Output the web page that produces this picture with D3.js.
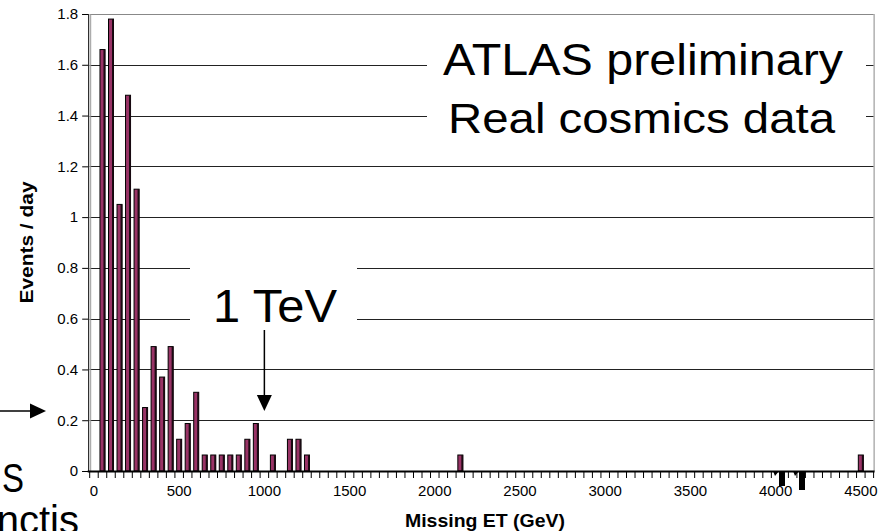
<!DOCTYPE html>
<html>
<head>
<meta charset="utf-8">
<script src="https://cdn.jsdelivr.net/npm/d3@7/dist/d3.min.js"></script>
<style>
  body { margin: 0; background: #fff; }
  svg { display: block; font-family: "Liberation Sans", Arial, sans-serif; }
</style>
</head>
<body>
<div id="chart"></div>
<script>
// bins of 50 GeV, 0 .. 4550
const bins = d3.range(0, 4600, 50);
// non-empty bins (everything else is 0)
const filledBins = [50, 100, 150, 200, 250, 300, 350, 400, 450, 500, 550, 600, 650, 700, 750, 800, 850, 900, 950, 1050, 1150, 1200, 1250, 2150, 4500];
const eventsPerDay = [1.66, 1.78, 1.05, 1.48, 1.11, 0.25, 0.49, 0.37, 0.49, 0.125, 0.187, 0.31, 0.063, 0.063, 0.063, 0.063, 0.063, 0.125, 0.187, 0.063, 0.125, 0.125, 0.063, 0.063, 0.063];
const xLabels = [0, 500, 1000, 1500, 2000, 2500, 3000, 3500, 4000, 4500];
const yTicks = [0, 0.2, 0.4, 0.6, 0.8, 1, 1.2, 1.4, 1.6, 1.8];

const W = 882, H = 531;
const plotL = 89.7, plotR = 873.6, plotT = 14, plotB = 471;

const valueOf = new Map(filledBins.map((b, i) => [b, eventsPerDay[i]]));
const data = bins.map(b => ({ bin: b, v: valueOf.get(b) || 0 }));

const svg = d3.select("#chart").append("svg")
  .attr("width", W)
  .attr("height", H);

const x = d3.scaleBand()
  .domain(bins)
  .range([plotL, plotR])
  .padding(0);

const y = d3.scaleLinear()
  .domain([0, 1.8])
  .range([plotB, plotT]);

// grid lines (back wall)
svg.append("g")
  .selectAll("line")
  .data(yTicks.slice(1))
  .join("line")
  .attr("x1", plotL)
  .attr("x2", plotR)
  .attr("y1", d => Math.round(y(d)) + 0.5)
  .attr("y2", d => Math.round(y(d)) + 0.5)
  .attr("stroke", d => d === 1.8 ? "#888" : "#222")
  .attr("stroke-width", 1);

// frame on the right side and wall edge
svg.append("line")
  .attr("x1", plotR + 0.5).attr("x2", plotR + 0.5)
  .attr("y1", y(1.8)).attr("y2", plotB)
  .attr("stroke", "#888");
svg.append("line")
  .attr("x1", plotL + 1).attr("x2", plotL + 1)
  .attr("y1", y(1.8)).attr("y2", plotB)
  .attr("stroke", "#999");

// white boxes under the annotations
svg.append("rect")
  .attr("x", 427).attr("y", 22).attr("width", 439).attr("height", 128)
  .attr("fill", "#fff");
svg.append("rect")
  .attr("x", 190).attr("y", 262).attr("width", 167).attr("height", 66)
  .attr("fill", "#fff");

// bars
const bw = 5;
const bars = svg.append("g")
  .selectAll("g")
  .data(data)
  .join("g")
  .attr("transform", d => "translate(" + (x(d.bin) + x.bandwidth() / 2 - bw / 2) + ",0)");

bars.append("rect")
  .attr("x", 0)
  .attr("y", d => y(d.v))
  .attr("width", bw)
  .attr("height", d => plotB - y(d.v))
  .attr("fill", "#993366")
  .attr("stroke", "#000")
  .attr("stroke-width", 1);

bars.filter(d => d.v > 0).append("rect")
  .attr("x", bw - 1.5)
  .attr("y", d => y(d.v))
  .attr("width", 1.8)
  .attr("height", d => plotB - y(d.v))
  .attr("fill", "#1a0a12");

// x axis
svg.append("line")
  .attr("x1", plotL - 2).attr("x2", plotR + 1)
  .attr("y1", plotB + 0.5).attr("y2", plotB + 0.5)
  .attr("stroke", "#000").attr("stroke-width", 2);

svg.append("g")
  .selectAll("line")
  .data(bins.concat([null]))
  .join("line")
  .attr("x1", d => d === null ? plotR : x(d))
  .attr("x2", d => d === null ? plotR : x(d))
  .attr("y1", plotB)
  .attr("y2", plotB + 7)
  .attr("stroke", "#000");

const xAxis = svg.append("g")
  .attr("transform", "translate(0," + (plotB + 11) + ")")
  .call(d3.axisBottom(x).tickValues(xLabels).tickSize(0));
xAxis.select(".domain").remove();
xAxis.selectAll("text")
  .attr("font-family", "Liberation Sans, Arial, sans-serif")
  .attr("font-size", 15)
  .attr("fill", "#000");

// y axis
const yAxis = svg.append("g")
  .attr("transform", "translate(" + (plotL - 1.5) + ",0)")
  .call(d3.axisLeft(y).tickValues(yTicks).tickSize(6).tickPadding(4)
    .tickFormat(d => String(+d.toFixed(1))));
yAxis.select(".domain").attr("stroke", "#000");
yAxis.selectAll(".tick line").attr("stroke", "#000");
yAxis.selectAll("text")
  .attr("font-family", "Liberation Sans, Arial, sans-serif")
  .attr("font-size", 15)
  .attr("fill", "#000");

// axis titles
svg.append("text")
  .attr("transform", "translate(33," + (plotT + plotB) / 2 + ") rotate(-90)")
  .attr("text-anchor", "middle")
  .attr("font-weight", "bold")
  .attr("font-size", 19)
  .attr("textLength", 122)
  .attr("lengthAdjust", "spacingAndGlyphs")
  .text("Events / day");

svg.append("text")
  .attr("x", 485)
  .attr("y", 527)
  .attr("text-anchor", "middle")
  .attr("font-weight", "bold")
  .attr("font-size", 19)
  .attr("textLength", 160)
  .attr("lengthAdjust", "spacingAndGlyphs")
  .text("Missing ET (GeV)");

// annotations
function big(txt, px, py, size, len) {
  svg.append("text")
    .attr("x", px).attr("y", py)
    .attr("font-size", size)
    .attr("textLength", len)
    .attr("lengthAdjust", "spacingAndGlyphs")
    .text(txt);
}
big("ATLAS preliminary", 443, 75, 44, 400);
big("Real cosmics data", 448, 133, 42, 387);
big("1 TeV", 213, 322, 46, 124);
big("S", 2, 492, 40, 22);

svg.append("text")
  .attr("x", 79).attr("y", 534)
  .attr("text-anchor", "end")
  .attr("font-size", 40)
  .text("anctis");

// arrow pointing at 1 TeV
const ax = x(1000) + x.bandwidth() / 2;
svg.append("line")
  .attr("x1", ax).attr("x2", ax)
  .attr("y1", 330).attr("y2", 396)
  .attr("stroke", "#000").attr("stroke-width", 1.5);
svg.append("path")
  .attr("d", `M${ax - 7.5},395 L${ax + 7.5},395 L${ax},411 Z`)
  .attr("fill", "#000");

// arrow from the left
svg.append("line")
  .attr("x1", 0).attr("x2", 31)
  .attr("y1", 411).attr("y2", 411)
  .attr("stroke", "#000").attr("stroke-width", 1.5);
svg.append("path")
  .attr("d", "M30,403.5 L30,418.5 L46,411 Z")
  .attr("fill", "#000");

// stray marks hanging under the axis near 4000
[[779, 486], [799, 490]].forEach(([mx, my]) => {
  svg.append("path")
    .attr("d", `M${mx},${plotB} h6 V${my} h-6 Z M${mx},${plotB} l-6,0 l2,5 Z`)
    .attr("fill", "#000");
});
</script>
</body>
</html>
